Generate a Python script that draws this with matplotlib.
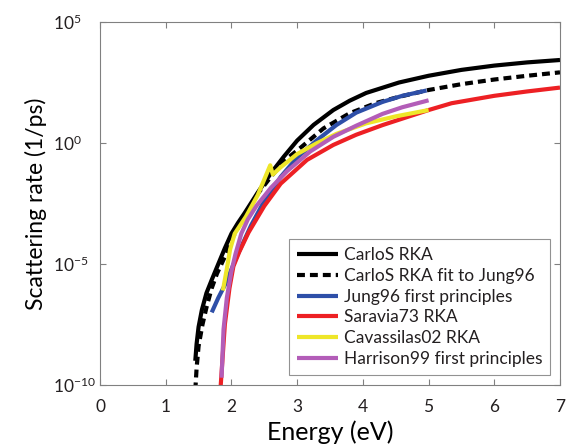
import numpy as np
import matplotlib
matplotlib.use('Agg')
import matplotlib.pyplot as plt
from matplotlib.ticker import FixedLocator, NullLocator

plt.rcParams['font.family'] = 'Lato'
plt.rcParams['text.color'] = '#231f20'
plt.rcParams['xtick.color'] = '#808080'
plt.rcParams['ytick.color'] = '#808080'
plt.rcParams['xtick.labelcolor'] = '#231f20'
plt.rcParams['ytick.labelcolor'] = '#231f20'

# energies in eV, rates in 1/ps
carlos_e = [1.45, 1.47, 1.50, 1.55, 1.62, 1.70, 1.80, 1.90, 2.00, 2.10, 2.20, 2.40, 2.60,
            2.80, 3.00, 3.25, 3.55, 3.80, 4.05, 4.55, 5.00, 5.50, 6.00, 6.50, 7.00]
carlos_rate = [1e-9, 5e-9, 2.5e-8, 1.26e-7, 6.3e-7, 2.2e-6, 1e-5, 4.5e-5, 1.8e-4, 5e-4, 1.26e-3,
               8.9e-3, 5.6e-2, 0.28, 1.26, 5.6, 23, 56, 117, 316, 600, 1050, 1580, 2140, 2690]

fit_e = [1.45, 1.47, 1.50, 1.56, 1.62, 1.70, 1.78, 1.90, 2.00, 2.10, 2.20, 2.40, 2.60,
         2.80, 3.05, 3.40, 3.80, 4.20, 4.55, 5.00, 5.50, 6.00, 6.50, 7.00]
fit_rate = [6e-11, 5e-10, 4e-9, 3.2e-8, 1.6e-7, 1e-6, 4e-6, 2e-5, 1e-4, 3.2e-4, 1e-3, 8e-3,
            4e-2, 0.18, 0.63, 4.0, 17, 45, 81, 155, 270, 420, 600, 830]

jung_e = [1.70, 1.80, 1.90, 2.08, 2.30, 2.50, 2.75, 3.00, 3.30, 3.60, 3.90, 4.30, 4.60, 4.97]
jung_rate = [1e-7, 4e-7, 1.35e-6, 2e-5, 4e-4, 4e-3, 4e-2, 0.25, 1.3, 5.6, 18, 50, 89, 148]

saravia_e = [1.83, 1.85, 1.90, 1.97, 2.03, 2.12, 2.26, 2.50, 2.75, 3.15, 3.55, 3.90,
             4.30, 5.00, 5.35, 6.00, 6.50, 7.00]
saravia_rate = [5e-11, 3.2e-10, 3.2e-8, 1e-6, 8e-6, 3.2e-5, 2e-4, 2.5e-3, 2.1e-2, 0.2, 0.83, 2.2,
                5.5, 23, 44, 89, 135, 195]

cava_e = [1.87, 1.93, 1.98, 2.05, 2.22, 2.40, 2.59, 2.63, 2.75, 3.00, 3.30, 3.60, 4.05, 4.50, 5.00]
cava_rate = [8e-7, 6.3e-6, 4e-5, 1.8e-4, 9e-4, 7e-3, 0.12, 0.05, 0.1, 0.35, 0.98, 2.4, 6.5, 12.6, 23]

harrison_e = [1.85, 1.88, 1.93, 2.00, 2.06, 2.15, 2.25, 2.38, 2.60, 2.85, 3.20, 3.55,
              3.90, 4.30, 4.60, 5.00]
harrison_rate = [2e-10, 2e-8, 4e-7, 5e-6, 2.5e-5, 1.8e-4, 7e-4, 2.5e-3, 1.4e-2, 7e-2, 0.45, 1.8,
                 5.2, 16, 30, 58]

xticks = [0, 1, 2, 3, 4, 5, 6, 7]
yticks = [1e-10, 1e-5, 1e0, 1e5]
ytick_labels = [r'$\mathregular{10^{-10}}$', r'$\mathregular{10^{-5}}$',
                r'$\mathregular{10^{0}}$', r'$\mathregular{10^{5}}$']

fig = plt.figure(figsize=(5.79, 4.44), dpi=100)
ax = fig.add_axes([100/579, 1 - 385/444, 460/579, 363/444])

style = dict(lw=3, solid_joinstyle='round', solid_capstyle='butt')
ax.plot(carlos_e, carlos_rate, color='black', label='CarloS RKA', **style)
ax.plot(fit_e, fit_rate, color='black', lw=3, linestyle=(0, (1.9, 1.2)),
        dash_capstyle='butt', dash_joinstyle='round', label='CarloS RKA fit to Jung96')
ax.plot(jung_e, jung_rate, color='#2e4fa8', label='Jung96 first principles', **style)
ax.plot(saravia_e, saravia_rate, color='#ed2024', label='Saravia73 RKA', **style)
ax.plot(cava_e, cava_rate, color='#eee629', label='Cavassilas02 RKA', **style)
ax.plot(harrison_e, harrison_rate, color='#b35db8', label='Harrison99 first principles', **style)

ax.set_yscale('log')
ax.set_xlim(0, 7)
ax.set_ylim(1e-10, 1e5)
ax.xaxis.set_major_locator(FixedLocator(xticks))
ax.yaxis.set_major_locator(FixedLocator(yticks))
ax.yaxis.set_minor_locator(NullLocator())
ax.set_yticklabels(ytick_labels, ha='left')
ax.tick_params(direction='in', top=True, right=True, length=4, width=0.8, labelsize=12.5)
ax.tick_params(axis='x', pad=10)
ax.tick_params(axis='y', pad=34)
for s in ax.spines.values():
    s.set_color('#808080')
    s.set_linewidth(0.8)

ax.set_xlabel('Energy (eV)', fontsize=18, labelpad=4)
ax.set_ylabel('Scattering rate (1/ps)', fontsize=16.5, labelpad=4)

leg = ax.legend(loc='lower right', bbox_to_anchor=(0.978, 0.0275), borderaxespad=0,
                fontsize=12.5, frameon=True, fancybox=False, handlelength=2.4,
                handletextpad=0.3, labelspacing=0.28, borderpad=0.45)
leg.get_frame().set_edgecolor('#777777')
leg.get_frame().set_linewidth(0.8)

fig.savefig('out.png', dpi=100)
